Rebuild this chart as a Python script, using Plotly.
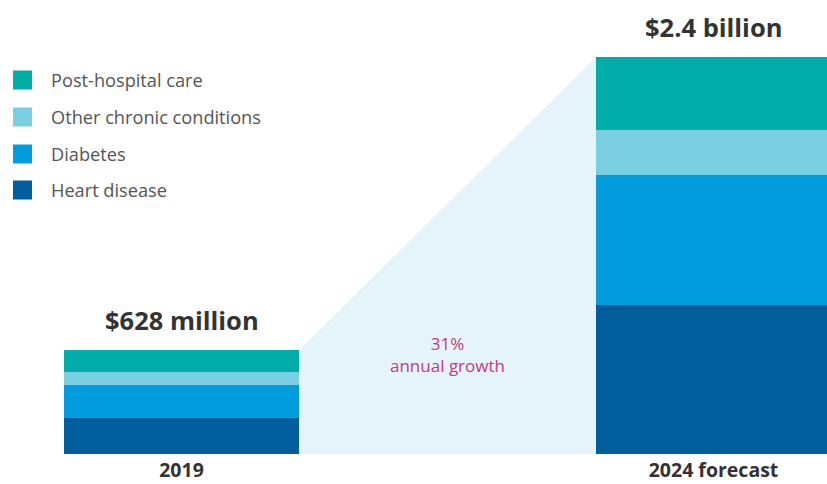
import plotly.graph_objects as go

# ---- data ----
categories = ["2019", "2024 forecast"]
series_names = ["Heart disease", "Diabetes", "Other chronic conditions", "Post-hospital care"]
heart_disease = [220, 901]
diabetes = [195, 786]
other_chronic = [80, 272]
post_hospital = [133, 441]
totals_labels = ["$628 million", "$2.4 billion"]
growth_label = "31%<br>annual growth"

series_values = [heart_disease, diabetes, other_chronic, post_hospital]
colors = ["#005E9C", "#009CDE", "#7ACFE3", "#00ADA8"]

W, H = 827, 484
BOTTOM = 30
x_pos = [181.5, 713.5]
bar_w = 235
y_max = 2745

FONT = "'Open Sans', sans-serif"

fig = go.Figure()
for name, vals, col in zip(series_names, series_values, colors):
    fig.add_trace(go.Bar(
        x=x_pos, y=vals, width=bar_w, name=name,
        marker=dict(color=col, line=dict(width=0)),
        showlegend=False, hoverinfo="name+y",
    ))

totals = [sum(v[i] for v in series_values) for i in range(len(categories))]

# growth wedge between bars
xl = x_pos[0] + bar_w / 2
xr = x_pos[1] - bar_w / 2
fig.add_shape(type="path", layer="below", xref="x", yref="y",
              path=f"M{xl},0 L{xl},{totals[0]} L{xr},{totals[1]} L{xr},0 Z",
              fillcolor="#E5F3FB", line=dict(width=0))

# total labels
for xp, t, lab in zip(x_pos, totals, totals_labels):
    fig.add_annotation(x=xp, y=t, xref="x", yref="y", text=f"<b>{lab}</b>",
                       showarrow=False, yanchor="bottom", yshift=11,
                       font=dict(family=FONT, size=25.5, color="#333333"))

fig.add_annotation(x=(xl + xr) / 2, y=0, xref="x", yref="y",
                   text=growth_label, showarrow=False, yanchor="middle",
                   yshift=454 - 354,
                   font=dict(family=FONT, size=17, color="#C8397F"))

# manual legend (top item = last series)
plot_h = H - BOTTOM
leg_y = [80, 117, 154, 190]
for i, (name, col) in enumerate(zip(reversed(series_names), reversed(colors))):
    yc = leg_y[i]
    y0 = 1 - (yc + 9.5) / plot_h
    y1 = 1 - (yc - 9.5) / plot_h
    fig.add_shape(type="rect", xref="paper", yref="paper",
                  x0=13 / W, x1=32 / W, y0=y0, y1=y1,
                  fillcolor=col, line=dict(width=0))
    fig.add_annotation(x=49 / W, y=1 - yc / plot_h, xref="paper", yref="paper",
                       text=name, showarrow=False, xanchor="left", yanchor="middle",
                       font=dict(family=FONT, size=18.2, color="#555555"))

fig.update_layout(
    width=W, height=H,
    margin=dict(l=0, r=0, t=0, b=BOTTOM),
    barmode="stack", bargap=0,
    plot_bgcolor="white", paper_bgcolor="white",
    showlegend=False,
    xaxis=dict(range=[0, W], tickvals=x_pos,
               ticktext=[f"<b>{c}</b>" for c in categories],
               showgrid=False, zeroline=False, showline=False, ticks="",
               automargin=False, ticklabelstandoff=2,
               tickfont=dict(family=FONT, size=19.5, color="#333333")),
    yaxis=dict(range=[0, y_max], visible=False, showgrid=False, automargin=False),
)

fig.write_html("out.html", config={"displayModeBar": False},
               post_script="document.body.style.margin='0';")
